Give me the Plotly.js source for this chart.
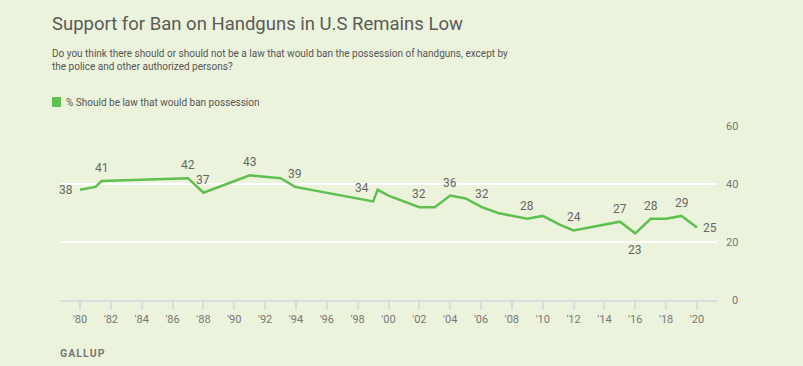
<!DOCTYPE html>
<html>
<head>
<meta charset="utf-8">
<script src="https://cdn.plot.ly/plotly-3.0.1.min.js"></script>
<style>
html,body{margin:0;padding:0;background:#ecf3dc;}
#chart{width:803px;height:366px;}
</style>
</head>
<body>
<div id="chart"></div>
<script>
// ---- data ----
const years = [1980.0, 1981.0, 1981.4, 1987.0, 1988.0, 1991.0, 1993.0, 1993.95, 1999.0, 1999.3, 2000.0, 2002.0, 2003.0, 2004.0, 2005.0, 2006.05, 2007.1, 2009.0, 2010.0, 2011.1, 2012.0, 2015.0, 2016.0, 2017.0, 2018.0, 2019.0, 2020.0];
const values = [38, 39, 41, 42, 37, 43, 42, 39, 34, 38, 36, 32, 32, 36, 35, 32, 30, 28, 29, 26, 24, 27, 23, 28, 28, 29, 25];
const labeledIdx = [0, 2, 3, 4, 5, 7, 8, 11, 13, 15, 17, 20, 21, 22, 23, 25, 26];
const tickYears = [1980, 1982, 1984, 1986, 1988, 1990, 1992, 1994, 1996, 1998, 2000, 2002, 2004, 2006, 2008, 2010, 2012, 2014, 2016, 2018, 2020];
const tickLabels = ["'80", "'82", "'84", "'86", "'88", "'90", "'92", "'94", "'96", "'98", "'00", "'02", "'04", "'06", "'08", "'10", "'12", "'14", "'16", "'18", "'20"];
const yTicks = [0, 20, 40, 60];
const seriesName = "% Should be law that would ban possession";
const titleText = "Support for Ban on Handguns in U.S Remains Low";
const subtitleText = "Do you think there should or should not be a law that would ban the possession of handguns, except by<br>the police and other authorized persons?";

// ---- label placement (style) ----
const labelPlace = {0: 'l', 8: 'tl', 22: 'b', 26: 'r'};
const shifts = {t: [0, 13], b: [0, -17], l: [-14, 0], r: [13, 0], tl: [-11, 13]};

const FONT = 'Roboto, "Open Sans", sans-serif';
const GREEN = '#5fbf50';

const annotations = [];
labeledIdx.forEach(i => {
  const p = labelPlace[i] || 't';
  const s = shifts[p];
  annotations.push({
    x: years[i], y: values[i], xref: 'x', yref: 'y',
    text: String(values[i]), showarrow: false,
    xshift: s[0], yshift: s[1],
    xanchor: 'center', yanchor: 'middle',
    font: {family: FONT, size: 12, color: '#666666'}
  });
});
yTicks.forEach(v => {
  annotations.push({
    x: 1, y: v, xref: 'paper', yref: 'y', xanchor: 'right', yanchor: 'middle',
    xshift: 23, text: String(v), showarrow: false,
    font: {family: FONT, size: 11, color: '#777777'}
  });
});
annotations.push({
  xref: 'paper', yref: 'paper', x: 0, y: 1, xanchor: 'left', yanchor: 'middle',
  xshift: -10, yshift: 126 - 59.5, text: subtitleText, align: 'left', showarrow: false,
  font: {family: FONT, size: 10, color: '#555555'}
});
annotations.push({
  xref: 'paper', yref: 'paper', x: 0, y: 1, xanchor: 'left', yanchor: 'middle',
  xshift: 4, yshift: 126 - 102, text: seriesName, showarrow: false,
  font: {family: FONT, size: 10, color: '#555555'}
});
annotations.push({
  xref: 'paper', yref: 'paper', x: 0, y: 0, xanchor: 'left', yanchor: 'middle',
  xshift: -2, yshift: -(353 - 300), text: '<b>G A L L U P</b>'.replace(/ /g, '\u200a'), showarrow: false,
  font: {family: FONT, size: 10.5, color: '#777777'}
});

const trace = {
  x: years, y: values, type: 'scatter', mode: 'lines',
  line: {color: GREEN, width: 2.5},
  name: seriesName, showlegend: false, hoverinfo: 'skip'
};

const layout = {
  width: 803, height: 366,
  paper_bgcolor: '#ecf3dc', plot_bgcolor: '#ecf3dc',
  margin: {l: 60, r: 86, t: 126, b: 66},
  title: {
    text: titleText, xref: 'container', yref: 'container',
    x: 52 / 803, xanchor: 'left', y: 1 - 24 / 366, yanchor: 'middle',
    font: {family: FONT, size: 18.5, color: '#5a5a5a'}
  },
  xaxis: {
    range: [1978.7, 2021.3], tickvals: tickYears, ticktext: tickLabels,
    showgrid: false, zeroline: false, showline: true, linecolor: '#dcdcdc', linewidth: 2,
    ticks: 'outside', ticklen: 8, tickwidth: 2, tickcolor: '#dcdcdc',
    tickfont: {family: FONT, size: 11, color: '#777777'}, fixedrange: true
  },
  yaxis: {
    range: [0, 60], tickvals: [20, 40, 60], showticklabels: false,
    showgrid: true, gridcolor: '#ffffff', gridwidth: 2, zeroline: false, showline: false,
    fixedrange: true
  },
  shapes: [{
    type: 'rect', xref: 'paper', yref: 'paper',
    x0: -8 / 657, x1: 1 / 657, y0: 1 + (126 - 107) / 174, y1: 1 + (126 - 97) / 174,
    fillcolor: GREEN, line: {width: 0}
  }],
  annotations: annotations,
  showlegend: false
};

Plotly.newPlot('chart', [trace], layout, {displayModeBar: false, staticPlot: true});
</script>
</body>
</html>
